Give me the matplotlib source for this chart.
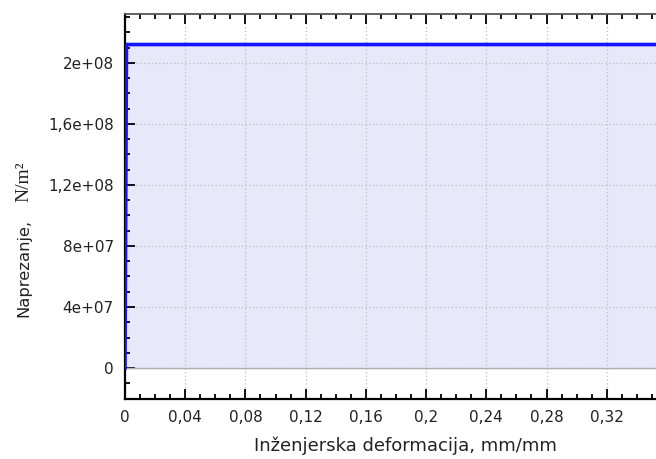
import matplotlib.pyplot as plt
from matplotlib.ticker import MultipleLocator

# stress-strain curve (ideal plastic)
strain = [0.0, 0.001, 0.36]
stress = [0.0, 2.12e8, 2.12e8]

xticks = [0, 0.04, 0.08, 0.12, 0.16, 0.2, 0.24, 0.28, 0.32]
xlabels = ['0', '0,04', '0,08', '0,12', '0,16', '0,2', '0,24', '0,28', '0,32']
yticks = [0, 4e7, 8e7, 1.2e8, 1.6e8, 2e8]
ylabels = ['0', '4e+07', '8e+07', '1,2e+08', '1,6e+08', '2e+08']

fig = plt.figure(figsize=(6.56, 4.59), dpi=100)
ax = fig.add_axes([0.1905, 0.1307, 0.8095, 0.8388])

ax.fill_between(strain, stress, 0, color='#e8e8fa', zorder=1)
ax.axhline(0, color='#b0b0b0', lw=1, zorder=2)
ax.plot(strain, stress, color='#1414ff', lw=2.6, zorder=3)

ax.set_xlim(0, 0.3527)
ax.set_ylim(-2.03e7, 2.32e8)

ax.set_xticks(xticks)
ax.set_xticklabels(xlabels)
ax.set_yticks(yticks)
ax.set_yticklabels(ylabels)
ax.xaxis.set_minor_locator(MultipleLocator(0.01))
ax.yaxis.set_minor_locator(MultipleLocator(1e7))

ax.grid(True, which='major', color='#bcbcbc', linestyle=(0, (1, 2)), lw=0.9)
ax.tick_params(which='both', direction='in', top=True, right=False,
               labelsize=11, color='black', labelcolor='#222222')
ax.tick_params(axis='x', pad=8)
ax.tick_params(axis='y', pad=8)
ax.tick_params(which='major', length=7, width=1.3)
ax.tick_params(which='minor', length=3.5, width=1.3)

ax.spines['right'].set_visible(False)
for s in ['left', 'bottom']:
    ax.spines[s].set_linewidth(1.6)
ax.spines['top'].set_color('#555555')
ax.spines['top'].set_linewidth(1.3)

ax.set_xlabel('Inženjerska deformacija, mm/mm', fontsize=13, color='#222222')
ax.xaxis.set_label_coords(0.529, -0.098)

# y label: sans part + serif unit, sharing one baseline
fig.text(28 / 656, 1 - 317 / 459, 'Naprezanje,', rotation=90,
         rotation_mode='anchor', ha='left', va='baseline',
         fontsize=11.8, color='#222222')
fig.text(28 / 656, 1 - 202 / 459, 'N/m²', rotation=90,
         rotation_mode='anchor', ha='left', va='baseline',
         fontsize=14, family='Liberation Serif', color='#222222')

fig.savefig('out.png', dpi=100)
